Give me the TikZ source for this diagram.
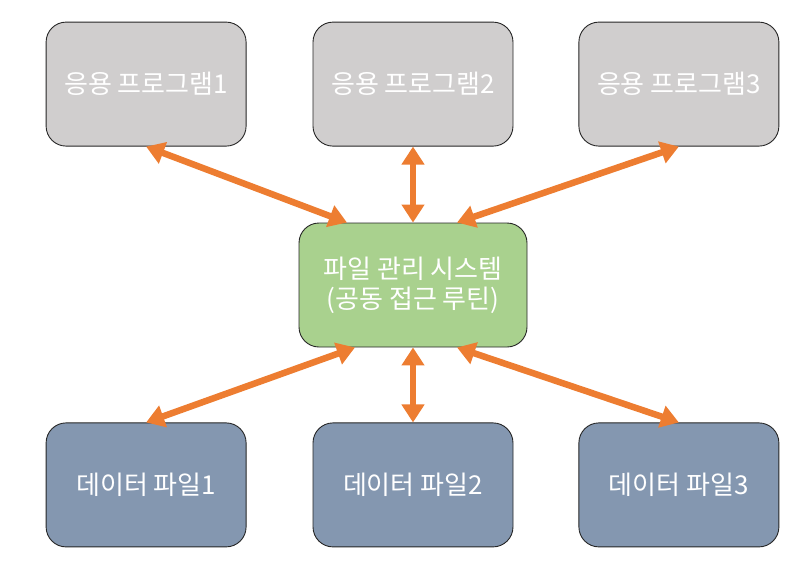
\documentclass[tikz,border=0pt]{standalone}
\usepackage{fontspec}
\setmainfont{Noto Sans CJK KR}
\usetikzlibrary{arrows.meta, positioning}
\definecolor{appgray}{HTML}{D0CECE}
\definecolor{sysgreen}{HTML}{A9D18E}
\definecolor{filegray}{HTML}{8497B0}
\definecolor{linkorange}{HTML}{ED7D31}

\begin{document}
\begin{tikzpicture}[
    x=1pt, y=1pt,
    box/.style={draw=black!85, line width=0.9pt, rounded corners=20pt, minimum width=200pt, minimum height=124pt, align=center, text=white, font=\fontsize{26}{30}\selectfont, inner sep=0pt},
    arrow/.style={{Triangle[length=18pt, width=22pt]}-{Triangle[length=18pt, width=22pt]}, line width=6.5pt, linkorange}
]
    \useasboundingbox (0,0) rectangle (806,-566);

    \node[box, fill=sysgreen, minimum width=228pt] (sys) at (413,-285) {파일 관리 시스템\\(공동 접근 루틴)};

    \node[box, fill=appgray, above=76pt of sys] (app2) {응용 프로그램2};
    \node[box, fill=appgray, left=66pt of app2] (app1) {응용 프로그램1};
    \node[box, fill=appgray, right=65pt of app2] (app3) {응용 프로그램3};

    \node[box, fill=filegray, below=75pt of sys] (file2) {데이터 파일2};
    \node[box, fill=filegray, left=66pt of file2] (file1) {데이터 파일1};
    \node[box, fill=filegray, right=65pt of file2] (file3) {데이터 파일3};

    % links between programs and the file system
    \draw[arrow] (app1.south) -- ([xshift=-66pt]sys.north);
    \draw[arrow] (app2.south) -- (sys.north);
    \draw[arrow] (app3.south) -- ([xshift=44pt]sys.north);

    % links between the file system and the data files
    \draw[arrow] ([xshift=-58pt]sys.south) -- (file1.north);
    \draw[arrow] (sys.south) -- (file2.north);
    \draw[arrow] ([xshift=44pt]sys.south) -- (file3.north);
\end{tikzpicture}
\end{document}
